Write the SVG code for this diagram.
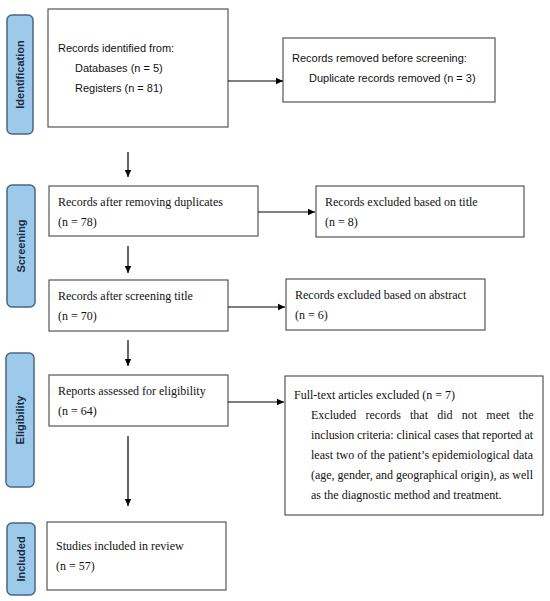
<svg xmlns="http://www.w3.org/2000/svg" width="550" height="601" viewBox="0 0 550 601">
<defs>
<marker id="ah" markerWidth="8" markerHeight="8" refX="7" refY="4" orient="auto" markerUnits="userSpaceOnUse">
<path d="M0,0.8 L7,4 L0,7.2 Z" fill="#000"/>
</marker>
<style>
.tab{fill:#9dcaea;stroke:#4a6680;stroke-width:1.5}
.tl{font-family:"Liberation Sans",Arial,sans-serif;font-weight:bold;font-size:11px;fill:#1a2a40;text-anchor:middle}
.box{fill:#fff;stroke:#555;stroke-width:1.2}
.sn{font-family:"Liberation Sans",Arial,sans-serif;font-size:11px;fill:#111}
.sr{font-family:"Liberation Serif","Times New Roman",serif;font-size:12px;fill:#111}
.cn{stroke:#000;stroke-width:1.2;fill:none;marker-end:url(#ah)}
</style>
</defs>
<rect width="550" height="601" fill="#fff"/>

<g id="tab-identification"><rect class="tab" x="7" y="15" width="26" height="119" rx="5"/><text class="tl" transform="translate(24,74.5) rotate(-90)">Identification</text></g>
<g id="tab-screening"><rect class="tab" x="7" y="185" width="28" height="122" rx="5"/><text class="tl" transform="translate(25,246) rotate(-90)">Screening</text></g>
<g id="tab-eligibility"><rect class="tab" x="6" y="353" width="28" height="134" rx="5"/><text class="tl" transform="translate(24,420) rotate(-90)">Eligibility</text></g>
<g id="tab-included"><rect class="tab" x="7" y="523" width="28" height="72" rx="5"/><text class="tl" transform="translate(25,559) rotate(-90)">Included</text></g>

<g id="n1"><rect class="box" x="48" y="9" width="180" height="118"/>
<text class="sn" x="58" y="52">Records identified from:</text>
<text class="sn" x="75" y="72">Databases (n = 5)</text>
<text class="sn" x="75" y="92">Registers (n = 81)</text></g>

<g id="n2"><rect class="box" x="283" y="38" width="212" height="64"/>
<text class="sn" x="292" y="62">Records removed before screening:</text>
<text class="sn" x="309" y="82">Duplicate records removed (n = 3)</text></g>

<g id="n3"><rect class="box" x="49" y="186" width="209" height="50"/>
<text class="sr" x="58" y="206">Records after removing duplicates</text>
<text class="sr" x="58" y="226">(n = 78)</text></g>

<g id="n4"><rect class="box" x="316" y="186" width="208" height="51"/>
<text class="sr" x="325" y="206">Records excluded based on title</text>
<text class="sr" x="325" y="226">(n = 8)</text></g>

<g id="n5"><rect class="box" x="49" y="280" width="179" height="51"/>
<text class="sr" x="58" y="300">Records after screening title</text>
<text class="sr" x="58" y="320">(n = 70)</text></g>

<g id="n6"><rect class="box" x="286" y="279" width="199" height="51"/>
<text class="sr" x="295" y="299">Records excluded based on abstract</text>
<text class="sr" x="295" y="319">(n = 6)</text></g>

<g id="n7"><rect class="box" x="49" y="375" width="179" height="51"/>
<text class="sr" x="58" y="395">Reports assessed for eligibility</text>
<text class="sr" x="58" y="415">(n = 64)</text></g>

<g id="n8"><rect class="box" x="285" y="376" width="258" height="139"/>
<text class="sr" x="294" y="399">Full-text articles excluded (n = 7)</text>
<text class="sr" x="311" y="419" word-spacing="6.2">Excluded records that did not meet the</text>
<text class="sr" x="311" y="439" textLength="222" lengthAdjust="spacing">inclusion criteria: clinical cases that reported at</text>
<text class="sr" x="311" y="459" textLength="222" lengthAdjust="spacing">least two of the patient’s epidemiological data</text>
<text class="sr" x="311" y="479" textLength="222" lengthAdjust="spacing">(age, gender, and geographical origin), as well</text>
<text class="sr" x="311" y="499">as the diagnostic method and treatment.</text></g>

<g id="n9"><rect class="box" x="47" y="522" width="179" height="68"/>
<text class="sr" x="56" y="550">Studies included in review</text>
<text class="sr" x="56" y="570">(n = 57)</text></g>

<g id="connectors">
<line class="cn" x1="228" y1="81" x2="283" y2="81"/>
<line class="cn" x1="128" y1="152" x2="128" y2="177"/>
<line class="cn" x1="258" y1="212" x2="315" y2="212"/>
<line class="cn" x1="128" y1="246" x2="128" y2="273"/>
<line class="cn" x1="228" y1="307" x2="285" y2="307"/>
<line class="cn" x1="128" y1="340" x2="128" y2="366"/>
<line class="cn" x1="228" y1="402" x2="284" y2="402"/>
<line class="cn" x1="128" y1="436" x2="128" y2="506"/>
</g>
</svg>
